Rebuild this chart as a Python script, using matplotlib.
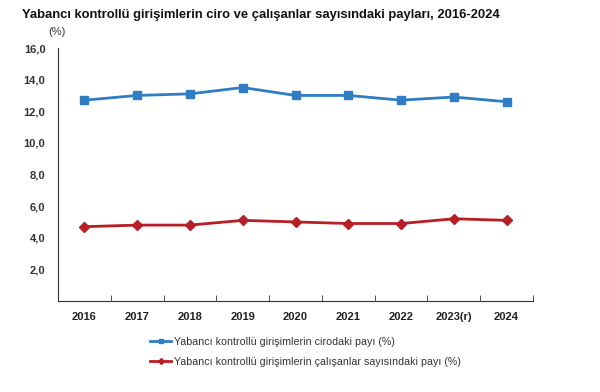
import matplotlib
matplotlib.use("Agg")
import matplotlib.pyplot as plt
import numpy as np

years = ["2016", "2017", "2018", "2019", "2020", "2021", "2022", "2023(r)", "2024"]
ciro = [12.7, 13.0, 13.1, 13.5, 13.0, 13.0, 12.7, 12.9, 12.6]
calisan = [4.7, 4.8, 4.8, 5.1, 5.0, 4.9, 4.9, 5.2, 5.1]
yticks = [2.0, 4.0, 6.0, 8.0, 10.0, 12.0, 14.0, 16.0]
labels = ["Yabancı kontrollü girişimlerin cirodaki payı (%)",
          "Yabancı kontrollü girişimlerin çalışanlar sayısındaki payı (%)"]

plt.rcParams['font.family'] = ['Liberation Sans', 'DejaVu Sans']

fig = plt.figure(figsize=(6, 3.92), dpi=100)
ax = fig.add_axes([58/600, 1-301/392, (533-58)/600, (301-48)/392])

x = np.arange(len(years))
blue = '#2F7DC4'
red = '#B81E25'
l1, = ax.plot(x, ciro, color=blue, lw=2, marker='s', ms=5.5)
l2, = ax.plot(x, calisan, color=red, lw=2, marker='D', ms=5.5)

ax.set_xlim(-0.5, len(years)-0.5)
ax.set_ylim(0, 16)
ax.set_yticks(yticks)
ax.set_yticklabels([f"{v:.1f}".replace('.', ',') for v in yticks],
                   fontsize=8, fontweight='bold', color='#333333')
ax.tick_params(axis='y', length=0, pad=9)
ax.set_xticks(x)
ax.set_xticklabels(years, fontsize=8, fontweight='bold', color='#222222')
ax.tick_params(axis='x', length=0, pad=8)
ax.set_xticks(np.arange(-0.5, len(years), 1), minor=True)
ax.tick_params(axis='x', which='minor', length=4, direction='in', color='#333333')
for s in ['top', 'right']:
    ax.spines[s].set_visible(False)
ax.spines['left'].set_color('#333333')
ax.spines['bottom'].set_color('#333333')

fig.text(22/600, 1-15/392, "Yabancı kontrollü girişimlerin ciro ve çalışanlar sayısındaki payları, 2016-2024",
         fontsize=9.4, fontweight='bold', va='center', ha='left', color='#111111')
fig.text(48/600, 1-32/392, "(%)", fontsize=8, color='#333333', va='center', ha='left')

leg = fig.legend([l1, l2], labels, loc='upper left', bbox_to_anchor=(150/600, 1-337/392),
                 frameon=False, fontsize=7.7, handlelength=2.0, handletextpad=0.25,
                 labelspacing=0.95, borderaxespad=0, borderpad=0)
for h in leg.legend_handles:
    h.set_markersize(3)
for t in leg.get_texts():
    t.set_color('#333333')

fig.savefig("out.png", dpi=100)
